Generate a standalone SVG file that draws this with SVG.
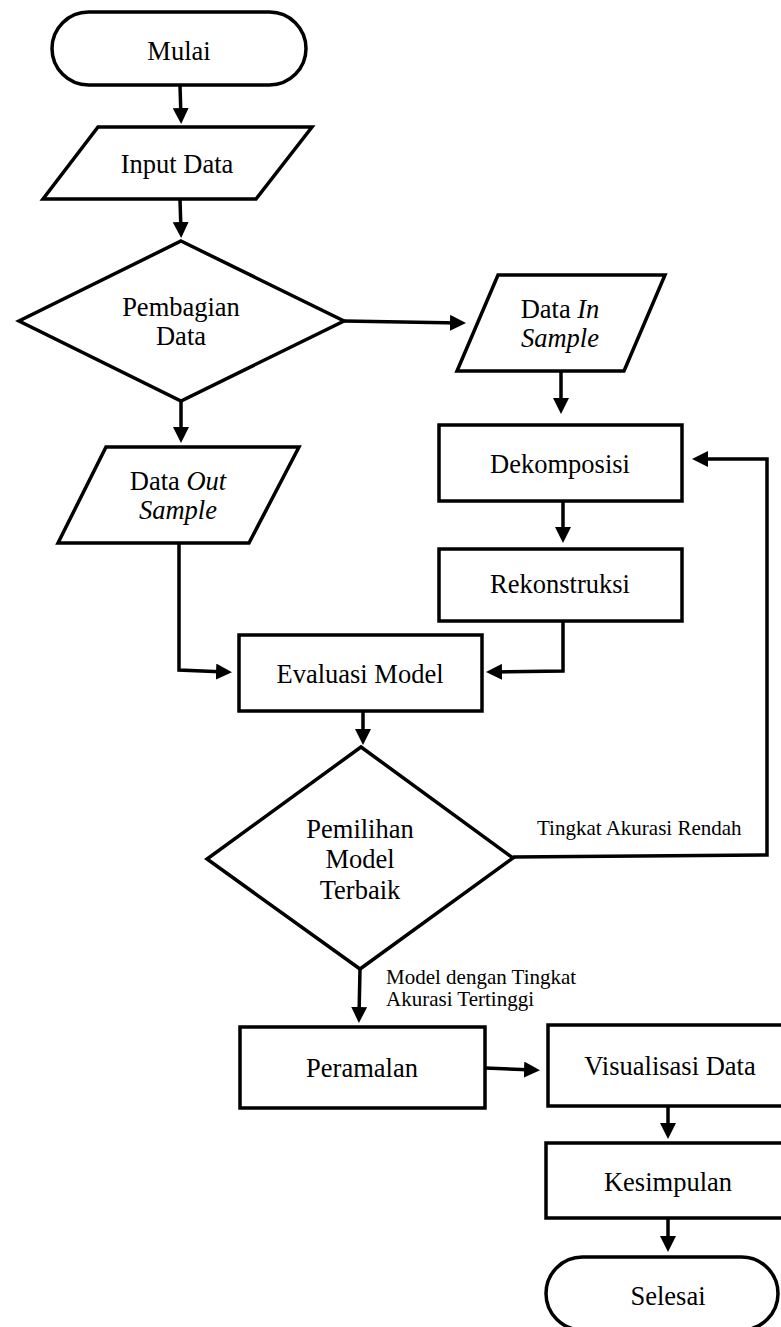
<svg xmlns="http://www.w3.org/2000/svg" width="781" height="1327" viewBox="0 0 781 1327">
<style>
.shape{fill:#fff;stroke:#000;stroke-width:3.5}
.t{font-family:"Liberation Serif","Times New Roman",serif;font-size:26.5px;fill:#000;text-anchor:middle}
.lbl{font-family:"Liberation Serif","Times New Roman",serif;font-size:21px;fill:#000}
.it{font-style:italic}
.c{fill:none;stroke:#000;stroke-width:3.5}
</style>
<defs>
<marker id="arr" viewBox="0 0 16 16" refX="10" refY="8" markerWidth="16" markerHeight="16" markerUnits="userSpaceOnUse" orient="auto">
<path d="M0,0 L16,8 L0,16 z" fill="#000"/>
</marker>
</defs>
<rect width="781" height="1327" fill="#fff"/>
<g id="connectors">
<path class="c" d="M180,85 L181,118" marker-end="url(#arr)"/>
<path class="c" d="M180,199 L181,232" marker-end="url(#arr)"/>
<path class="c" d="M344,321 L460,323" marker-end="url(#arr)"/>
<path class="c" d="M181,401 L181,437" marker-end="url(#arr)"/>
<path class="c" d="M561,371 L561,408" marker-end="url(#arr)"/>
<path class="c" d="M563,501 L563,537" marker-end="url(#arr)"/>
<path class="c" d="M179,543 L179,670 L226,672" marker-end="url(#arr)"/>
<path class="c" d="M563,621 L563,671 L492,672" marker-end="url(#arr)"/>
<path class="c" d="M363,711 L363,739" marker-end="url(#arr)"/>
<path class="c" d="M513,857 L767,855 L767,459 L698,459" marker-end="url(#arr)"/>
<path class="c" d="M360,969 L359,1017" marker-end="url(#arr)"/>
<path class="c" d="M485,1068 L534,1070" marker-end="url(#arr)"/>
<path class="c" d="M668,1106 L668,1133" marker-end="url(#arr)"/>
<path class="c" d="M668,1218 L668,1246" marker-end="url(#arr)"/>
<text class="lbl" x="537" y="835">Tingkat Akurasi Rendah</text>
<text class="lbl" x="386" y="984">Model dengan Tingkat</text>
<text class="lbl" x="386" y="1006">Akurasi Tertinggi</text>
</g>
<g id="mulai">
<rect class="shape" x="52" y="12" width="254" height="73" rx="36.5"/>
<text class="t" x="179" y="60">Mulai</text>
</g>
<g id="input-data">
<polygon class="shape" points="98,127 312,127 256,199 43,199"/>
<text class="t" x="177" y="173">Input Data</text>
</g>
<g id="pembagian-data">
<polygon class="shape" points="181,241 344,321 181,401 19,321"/>
<text class="t" x="181" y="316">Pembagian</text>
<text class="t" x="181" y="345">Data</text>
</g>
<g id="data-in-sample">
<polygon class="shape" points="498,275 665,275 624,371 457,371"/>
<text class="t" x="560" y="318">Data <tspan class="it">In</tspan></text>
<text class="t it" x="560" y="347">Sample</text>
</g>
<g id="data-out-sample">
<polygon class="shape" points="106,447 299,447 249,543 58,543"/>
<text class="t" x="178" y="490">Data <tspan class="it">Out</tspan></text>
<text class="t it" x="178" y="519">Sample</text>
</g>
<g id="dekomposisi">
<rect class="shape" x="439" y="425" width="243" height="76"/>
<text class="t" x="560" y="473">Dekomposisi</text>
</g>
<g id="rekonstruksi">
<rect class="shape" x="439" y="549" width="243" height="72"/>
<text class="t" x="560" y="593">Rekonstruksi</text>
</g>
<g id="evaluasi-model">
<rect class="shape" x="239" y="635" width="243" height="76"/>
<text class="t" x="360" y="683">Evaluasi Model</text>
</g>
<g id="pemilihan-model">
<polygon class="shape" points="361,747 513,858 360,969 207,859"/>
<text class="t" x="360" y="838">Pemilihan</text>
<text class="t" x="360" y="868">Model</text>
<text class="t" x="360" y="899">Terbaik</text>
</g>
<g id="peramalan">
<rect class="shape" x="240" y="1027" width="245" height="81"/>
<text class="t" x="362" y="1077">Peramalan</text>
</g>
<g id="visualisasi-data">
<rect class="shape" x="548" y="1025" width="242" height="81"/>
<text class="t" x="670" y="1075">Visualisasi Data</text>
</g>
<g id="kesimpulan">
<rect class="shape" x="546" y="1143" width="244" height="75"/>
<text class="t" x="668" y="1191">Kesimpulan</text>
</g>
<g id="selesai">
<rect class="shape" x="546" y="1257" width="232" height="73" rx="36.5"/>
<text class="t" x="668" y="1305">Selesai</text>
</g>
</svg>
